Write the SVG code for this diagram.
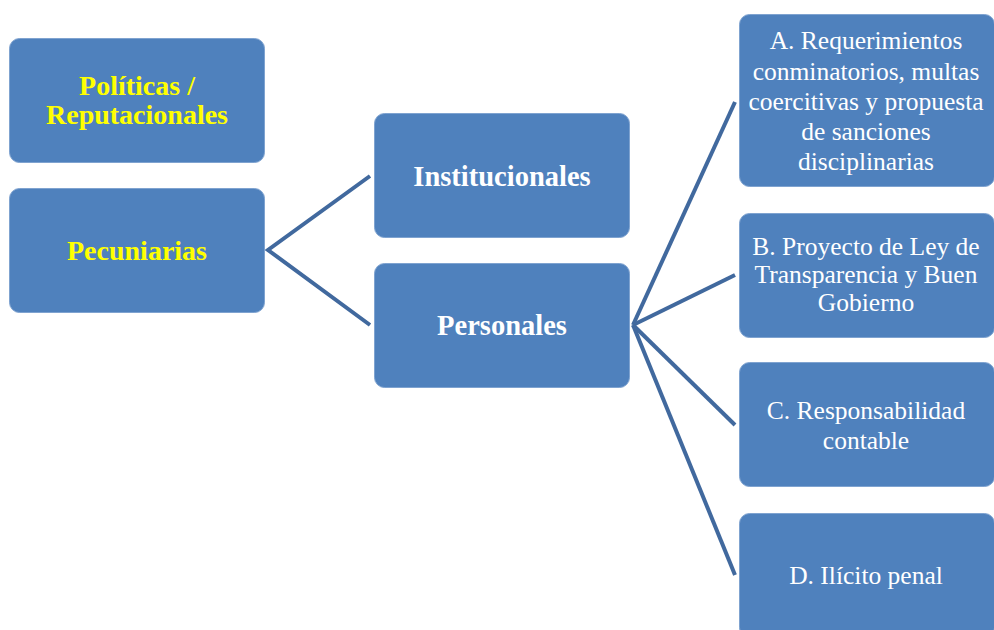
<svg xmlns="http://www.w3.org/2000/svg" width="994" height="630" viewBox="0 0 994 630">
<style>
.box{fill:#4F81BD;stroke:#7FA3D0;stroke-width:1}
.c{fill:none;stroke:#41699E;stroke-width:4;stroke-linecap:butt}
.y{font-family:"Liberation Serif","Times New Roman",serif;font-weight:bold;font-size:28px;fill:#FFFF00;text-anchor:middle}
.w{font-family:"Liberation Serif","Times New Roman",serif;font-weight:bold;font-size:28.5px;fill:#FFFFFF;text-anchor:middle}
.n{font-family:"Liberation Serif","Times New Roman",serif;font-size:25.5px;fill:#FFFFFF;text-anchor:middle}
</style>
<rect width="994" height="630" fill="#FFFFFF"/>
<g id="connectors">
<polyline class="c" points="370,176 268,250 370,325"/>
<line class="c" x1="633" y1="325" x2="735" y2="102"/>
<line class="c" x1="633" y1="325" x2="735" y2="275"/>
<line class="c" x1="633" y1="325" x2="735" y2="425"/>
<line class="c" x1="633" y1="325" x2="735" y2="575"/>
</g>
<g id="politicas">
<rect class="box" x="9.5" y="38.5" width="255" height="124" rx="10"/>
<text class="y" x="137" y="95">Políticas /</text>
<text class="y" x="137" y="124">Reputacionales</text>
</g>
<g id="pecuniarias">
<rect class="box" x="9.5" y="188.5" width="255" height="124" rx="10"/>
<text class="y" x="137" y="260">Pecuniarias</text>
</g>
<g id="institucionales">
<rect class="box" x="374.5" y="113.5" width="255" height="124" rx="10"/>
<text class="w" x="502" y="186">Institucionales</text>
</g>
<g id="personales">
<rect class="box" x="374.5" y="263.5" width="255" height="124" rx="10"/>
<text class="w" x="502" y="335">Personales</text>
</g>
<g id="nodeA">
<rect class="box" x="739.5" y="14.5" width="255" height="172" rx="10"/>
<text class="n" x="866" y="49">A. Requerimientos</text>
<text class="n" x="866" y="80">conminatorios, multas</text>
<text class="n" x="866" y="110">coercitivas y propuesta</text>
<text class="n" x="866" y="140">de sanciones</text>
<text class="n" x="866" y="170">disciplinarias</text>
</g>
<g id="nodeB">
<rect class="box" x="739.5" y="213.5" width="255" height="124" rx="10"/>
<text class="n" x="866" y="255">B. Proyecto de Ley de</text>
<text class="n" x="866" y="283">Transparencia y Buen</text>
<text class="n" x="866" y="311">Gobierno</text>
</g>
<g id="nodeC">
<rect class="box" x="739.5" y="362.5" width="255" height="124" rx="10"/>
<text class="n" x="866" y="419">C. Responsabilidad</text>
<text class="n" x="866" y="449">contable</text>
</g>
<g id="nodeD">
<rect class="box" x="739.5" y="513.5" width="255" height="124" rx="10"/>
<text class="n" x="866" y="584">D. Ilícito penal</text>
</g>
</svg>
